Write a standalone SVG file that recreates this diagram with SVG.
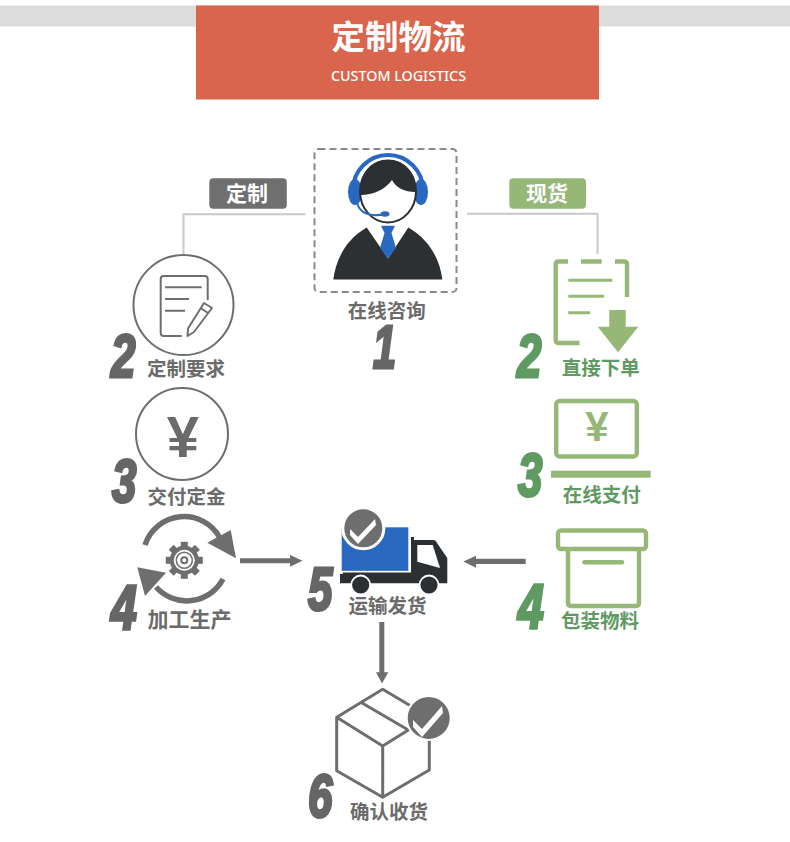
<svg xmlns="http://www.w3.org/2000/svg" width="790" height="842" viewBox="0 0 790 842">
<style>
.cjk{font-family:"Noto Sans CJK SC","Noto Sans",sans-serif;font-weight:700;text-anchor:middle}
.g{fill:#6b6b6b}.gr{fill:#5f9a62}.w{fill:#fff}
.t{font-size:19.5px}
.num{font-family:"Liberation Sans",Arial,sans-serif;font-weight:700;font-style:italic;font-size:61px;stroke-width:3.2px;stroke-linejoin:miter}
.ng{fill:#666;stroke:#666}.ngr{fill:#5f9a62;stroke:#5f9a62}
.ln{fill:none;stroke:#6e6e6e;stroke-width:2}
.gl{fill:none;stroke:#95b877;stroke-width:4.4}
.conn{fill:none;stroke:#c8c8c8;stroke-width:2}
.ar{fill:#6e6e6e}
.yen{font-family:"Liberation Sans",Arial,sans-serif;font-weight:700;text-anchor:middle}
</style>
<rect width="790" height="842" fill="#fff"/>
<g id="header">
<rect x="0" y="5.500" width="790" height="21" fill="#dcdcdc"/>
<rect x="196" y="5.500" width="403" height="94" fill="#d8654c"/>
<text class="cjk w" x="398.500" y="49" style="font-size:33.500px">定制物流</text>
<text x="398.500" y="81" text-anchor="middle" textLength="135" lengthAdjust="spacingAndGlyphs" style="font-family:'Noto Sans',sans-serif;font-size:14px;font-weight:500" fill="#fff">CUSTOM LOGISTICS</text>
</g>
<g id="connectors">
<path class="conn" d="M305.500,214.300H183.500V255"/>
<path class="conn" d="M467,213.700H597.500V254"/>
<path class="ar" d="M240,558.200H290V555L302.500,560.700L290,566.700V563.200H240Z"/>
<path class="ar" d="M525.700,558.800H476V555.700L463.300,561.500L476,567.700V564H525.700Z"/>
<path class="ar" d="M379.300,622H384.300V672.300H388.300L382,683.500L376,672.300H379.300Z"/>
</g>
<g id="tag-custom">
<rect x="209.300" y="178.300" width="77.500" height="30.500" rx="4" fill="#6f6f6f"/>
<text class="cjk w" x="247" y="201" style="font-size:21px">定制</text>
</g>
<g id="tag-stock">
<rect x="509.300" y="178.300" width="76.700" height="30.500" rx="4" fill="#95b877"/>
<text class="cjk w" x="547" y="201" style="font-size:21px">现货</text>
</g>
<g id="step1">
<rect x="314.500" y="149" width="142" height="143" rx="4" fill="none" stroke="#8a8a8a" stroke-width="2" stroke-dasharray="7 4"/>
<ellipse cx="355" cy="192" rx="7" ry="13" fill="#2968c0"/>
<ellipse cx="421" cy="192" rx="7" ry="13" fill="#2968c0"/>
<path d="M353,190A35,35 0 0 1 423,190" fill="none" stroke="#2968c0" stroke-width="4"/>
<ellipse cx="388" cy="191.500" rx="28" ry="31" fill="#fff" stroke="#2c3033" stroke-width="2"/>
<path d="M361,195C358,175 370,160 388,160C406,160 418,175 415,192C405,192 396,188 392,180C385,190 372,195 361,195Z" fill="#2c3033"/>
<path d="M357,203Q362,219 386,214" fill="none" stroke="#2968c0" stroke-width="2"/>
<ellipse cx="385" cy="214" rx="4.500" ry="2.800" fill="#2968c0"/>
<path d="M333.300,279.500C336,260 345,240 366.700,227.500L388,258.500L408.300,227.500C430,240 440,260 442.300,279.500Z" fill="#2c3033"/>
<path d="M381,225.700H395L391.500,233L396,248L388,258.500L380,248L384.500,233Z" fill="#2968c0"/>
<text class="cjk g t" x="386.700" y="318">在线咨询</text>
<text class="num ng" transform="translate(373,368) scale(.68,1)">1</text>
</g>
<g id="step2-left">
<circle cx="183.500" cy="305" r="50" class="ln"/>
<path class="ln" d="M207.700,300V279Q207.700,276 204.700,276H163.700Q160.700,276 160.700,279V333Q160.700,336 163.700,336H181.700"/>
<path class="ln" d="M165,287.300H201.700M165,299H189M165,310.700H185"/>
<path class="ln" d="M204,303L212,308L194,332L187.500,336L188,328.500ZM200.500,308L208,313" stroke-linejoin="round"/>
<text class="num ng" transform="translate(111,377) scale(.72,1)">2</text>
<text class="cjk g t" x="186" y="376">定制要求</text>
</g>
<g id="step3-left">
<circle cx="182" cy="434" r="46" class="ln"/>
<text class="yen g" x="183" y="457" style="font-size:58px">¥</text>
<text class="num ng" transform="translate(112,502) scale(.72,1)">3</text>
<text class="cjk g t" x="186.500" y="504">交付定金</text>
</g>
<g id="step4-left">
<path d="M145,545A41,41 0 0 1 220,538" fill="none" stroke="#6e6e6e" stroke-width="5.500"/>
<path class="ar" d="M230.700,530L207.300,542.700L236,558.300Z"/>
<path d="M223,579A41,41 0 0 1 156,587" fill="none" stroke="#6e6e6e" stroke-width="5.500"/>
<path class="ar" d="M137.300,567.300L166,572.700L145,596Z"/>
<g transform="translate(184.300,560.300)" fill="#6e6e6e">
<circle r="14.500"/>
<rect x="-3.500" y="-18.500" width="7" height="37"/>
<rect x="-3.500" y="-18.500" width="7" height="37" transform="rotate(45)"/>
<rect x="-3.500" y="-18.500" width="7" height="37" transform="rotate(90)"/>
<rect x="-3.500" y="-18.500" width="7" height="37" transform="rotate(135)"/>
<circle r="10.500" fill="#fff"/>
<circle r="8" fill="none" stroke="#6e6e6e" stroke-width="1.500"/>
<circle r="3" fill="none" stroke="#6e6e6e" stroke-width="2"/>
</g>
<text class="num ng" transform="translate(111,629) scale(.76,1.02)">4</text>
<text class="cjk g" x="189.500" y="627" style="font-size:21px">加工生产</text>
</g>
<g id="step5">
<rect x="341.700" y="527.300" width="66.600" height="43.500" fill="#2968c0"/>
<circle cx="363.300" cy="528.300" r="20.500" fill="#6e6e6e" stroke="#fff" stroke-width="3"/>
<path d="M350,529L358,537L375,519L376,525L358,544L350,535Z" fill="#fff"/>
<path d="M411,571V537H414V540H433Q436,540 437,543L447.300,558V583.300H340V574H342.700V572.500H411Z" fill="#2c3033"/>
<path d="M417.300,545H432.700L440,568L417.300,561.700Z" fill="#fff"/>
<circle cx="360.700" cy="585" r="9.500" fill="#2c3033" stroke="#fff" stroke-width="1.800"/>
<circle cx="429" cy="585" r="9.500" fill="#2c3033" stroke="#fff" stroke-width="1.800"/>
<text class="num ng" transform="translate(308,610) scale(.72,1)">5</text>
<text class="cjk g t" x="387.500" y="613">运输发货</text>
</g>
<g id="step6">
<path d="M382.700,689.300L429.300,717V770L382.700,797.300L336.700,770.700V717.300ZM336.700,717.300L382.700,746L429.300,717M382.700,746V797.300M361.700,702.700L408.300,730" fill="none" stroke="#6e6e6e" stroke-width="3" stroke-linejoin="round"/>
<circle cx="428.700" cy="718" r="22" fill="#6e6e6e" stroke="#fff" stroke-width="2"/>
<path d="M413,720L422,729L442,706L443,713L422,737L413,727Z" fill="#fff"/>
<text class="num ng" transform="translate(308,817) scale(.72,1)">6</text>
<text class="cjk g t" x="389" y="819">确认收货</text>
</g>
<g id="step2-right">
<path class="gl" d="M568,261.500H558.500Q555.700,261.500 555.700,264.500V340Q555.700,343 558.500,343H579.500M581,261.500H601.700M615,261.500H624Q627,261.500 627,264.500V297"/>
<path d="M568.300,280.300H612.300M568.300,296.300H604M568.300,312.700H590" fill="none" stroke="#95b877" stroke-width="3"/>
<path d="M609.300,310H625.700V326.700H638.300L618,352.300L597.700,326.700H609.300Z" fill="#95b877"/>
<text class="num ngr" transform="translate(517,377) scale(.72,1)">2</text>
<text class="cjk gr t" x="600.800" y="375">直接下单</text>
</g>
<g id="step3-right">
<rect x="556.200" y="401" width="80.600" height="55.500" rx="3.500" class="gl"/>
<text class="yen" x="597" y="441" fill="#95b877" style="font-size:42px">¥</text>
<rect x="551" y="470.700" width="99.700" height="7" fill="#95b877"/>
<text class="num ngr" transform="translate(518,496) scale(.72,1)">3</text>
<text class="cjk gr t" x="601.800" y="502">在线支付</text>
</g>
<g id="step4-right">
<rect x="558" y="530.500" width="88" height="18.500" rx="3" class="gl"/>
<path class="gl" d="M568,549V603Q568,606 571,606H636Q639,606 639,603V549"/>
<path d="M584.500,562.300H622" fill="none" stroke="#95b877" stroke-width="4.500" stroke-linecap="round"/>
<text class="num ngr" transform="translate(518,628) scale(.76,1.02)">4</text>
<text class="cjk gr t" x="600" y="628">包装物料</text>
</g>
</svg>
